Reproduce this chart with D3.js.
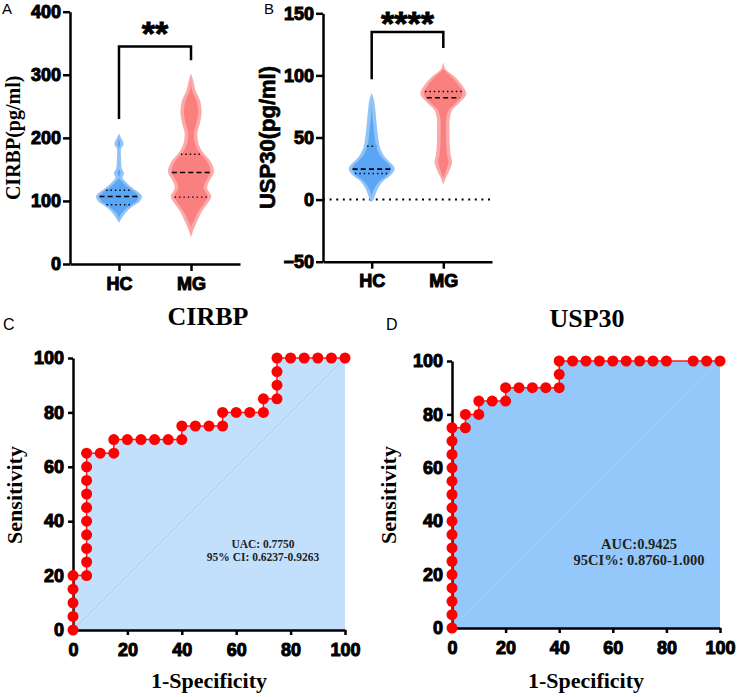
<!DOCTYPE html>
<html>
<head>
<meta charset="utf-8">
<script src="https://cdn.jsdelivr.net/npm/d3@7"></script>
<style>
  body { margin: 0; background: #fff; }
  svg { display: block; }
</style>
</head>
<body>
<svg width="739" height="697"></svg>
<script>
// ---- data ----
var groups = ["HC", "MG"];
var cirbpTicks = [0, 100, 200, 300, 400];
var usp30Ticks = [-50, 0, 50, 100, 150];
var rocTicks = [0, 20, 40, 60, 80, 100];

// violin outlines: [value, relative half width]
var cirbpHC = [[207,0],[200,0.09],[190,0.2],[183,0.09],[168,0.09],[152,0.12],[144,0.22],[137,0.15],[128,0.35],[120,0.6],[112,0.9],[107,1.0],[100,0.92],[93,0.66],[85,0.38],[77,0.2],[70,0.08],[65,0]];
var cirbpMG = [[302,0],[292,0.09],[275,0.2],[258,0.4],[240,0.46],[222,0.38],[208,0.28],[192,0.32],[178,0.5],[162,0.86],[146,1.0],[132,0.8],[121,0.7],[107,0.88],[95,0.7],[82,0.45],[70,0.3],[58,0.15],[48,0.05],[42,0]];
var usp30HC = [[86,0],[80,0.1],[70,0.17],[60,0.22],[50,0.28],[42,0.36],[35,0.55],[30,0.8],[25,1.0],[20,0.85],[15,0.5],[10,0.3],[5,0.18],[0,0.08],[-2,0]];
var usp30MG = [[111,0],[105,0.1],[99,0.5],[92,0.82],[85,1.0],[78,0.7],[72,0.38],[65,0.28],[55,0.27],[45,0.28],[36,0.32],[30,0.38],[24,0.28],[17,0.1],[12,0]];

var cirbpMedian = [107, 145], cirbpQ1 = [94, 106], cirbpQ3 = [117, 174];
var usp30Median = [24.5, 82], usp30Q1 = [21, null], usp30Q3 = [43, 87];

// ROC points (1-specificity %, sensitivity %)
var rocCirbpX = [0,0,0,0,0,5,5,5,5,5,5,5,5,5,5,10,15,15,20,25,30,35,40,40,45,50,55,55,60,65,70,70,75,75,75,75,80,85,90,95,100];
var rocCirbpY = [0,5,10,15,20,20,25,30,35,40,45,50,55,60,65,65,65,70,70,70,70,70,70,75,75,75,75,80,80,80,80,85,85,90,95,100,100,100,100,100,100];
var rocUspX = [0,0,0,0,0,0,0,0,0,0,0,0,0,0,0,0,5,5,10,10,15,20,20,25,30,35,40,40,40,45,50,55,60,65,70,75,80,90,95,100];
var rocUspY = [0,5,10,15,20,25,30,35,40,45,50,55,60,65,70,75,75,80,80,85,85,85,90,90,90,90,90,95,100,100,100,100,100,100,100,100,100,100,100,100];

var svg = d3.select("svg");
svg.append("rect").attr("width", 739).attr("height", 697).attr("fill", "#fff");

var ARIAL = "Arial, 'Liberation Sans', sans-serif";
var TIMES = "'Times New Roman', 'Liberation Serif', serif";

function styleAxis(g, size) {
  g.selectAll("path.domain").attr("stroke", "#000").attr("stroke-width", 2.5);
  g.selectAll(".tick line").attr("stroke", "#000").attr("stroke-width", 2.5);
  g.selectAll(".tick text").attr("font-family", ARIAL).attr("font-weight", "bold")
    .attr("font-size", size).attr("fill", "#000")
    .attr("stroke", "#000").attr("stroke-width", 1);
}

function halfAt(shape, v) {
  for (var i = 0; i < shape.length - 1; i++) {
    var a = shape[i], b = shape[i + 1];
    if (v <= a[0] && v >= b[0]) {
      var t = (a[0] - v) / (a[0] - b[0]);
      return a[1] + t * (b[1] - a[1]);
    }
  }
  return 0;
}

function violinPanel(o) {
  var y = d3.scaleLinear().domain(o.domain).range([o.bottom, o.top]);
  var x = d3.scalePoint().domain(groups).range([o.left, o.right]).padding(0.68);
  var maxHalf = 23, inset = 3.5;
  var g = svg.append("g");

  if (o.zeroLine) {
    g.append("line").attr("x1", o.left).attr("x2", o.right)
      .attr("y1", y(0)).attr("y2", y(0))
      .attr("stroke", "#000").attr("stroke-width", 2).attr("stroke-dasharray", "2,4.6");
  }

  o.shapes.forEach(function (shape, i) {
    var cx = x(groups[i]);
    var outer = d3.area().curve(d3.curveCatmullRom)
      .y(function (d) { return y(d[0]); })
      .x0(function (d) { return cx - d[1] * maxHalf; })
      .x1(function (d) { return cx + d[1] * maxHalf; });
    var inner = d3.area().curve(d3.curveCatmullRom)
      .y(function (d) { return y(d[0]); })
      .x0(function (d) { return cx - Math.max(0, d[1] * maxHalf - inset); })
      .x1(function (d) { return cx + Math.max(0, d[1] * maxHalf - inset); });
    g.append("path").attr("d", outer(shape)).attr("fill", o.light[i]);
    g.append("path").attr("d", inner(shape.slice(1, -1))).attr("fill", o.dark[i]);

    [[o.median[i], "5,3.2", 1.6], [o.q1[i], "1.4,3", 1.4], [o.q3[i], "1.4,3", 1.4]].forEach(function (q) {
      if (q[0] == null) return;
      var hw = Math.max(1, halfAt(shape, q[0]) * maxHalf - inset);
      g.append("line").attr("x1", cx - hw).attr("x2", cx + hw)
        .attr("y1", y(q[0])).attr("y2", y(q[0]))
        .attr("stroke", "#000").attr("stroke-width", q[2]).attr("stroke-dasharray", q[1]);
    });
  });

  var ya = g.append("g").attr("transform", "translate(" + o.left + ",0)")
    .call(d3.axisLeft(y).tickValues(o.ticks).tickSize(7).tickSizeOuter(0).tickPadding(2));
  styleAxis(ya, 18);
  var xa = g.append("g").attr("transform", "translate(0," + o.bottom + ")")
    .call(d3.axisBottom(x).tickSize(7).tickSizeOuter(0).tickPadding(6));
  styleAxis(xa, 18);

  // significance bracket
  var x1 = x(groups[0]), x2 = x(groups[1]);
  g.append("path")
    .attr("d", "M" + x1 + "," + y(o.bracket[0]) + "V" + y(o.bracket[2]) + "H" + x2 + "V" + y(o.bracket[1]))
    .attr("fill", "none").attr("stroke", "#000").attr("stroke-width", 2.5);
  g.append("text").attr("x", (x1 + x2) / 2).attr("y", o.starY)
    .attr("text-anchor", "middle").attr("font-family", ARIAL).attr("font-weight", "bold")
    .attr("font-size", 34).attr("stroke", "#000").attr("stroke-width", 0.8).text(o.stars);

  var lab = g.append("text").attr("transform", "translate(" + o.labelX + "," + ((o.top + o.bottom) / 2) + ") rotate(-90)")
    .attr("text-anchor", "middle").attr("font-family", o.labelFont).attr("font-weight", "bold")
    .attr("font-size", o.labelSize).text(o.label);
  if (o.labelFont === ARIAL) lab.attr("stroke", "#000").attr("stroke-width", 0.7);
  g.append("text").attr("x", o.letterX).attr("y", 14).attr("font-family", ARIAL)
    .attr("font-size", 15).text(o.letter);
}

violinPanel({
  domain: [0, 400], ticks: cirbpTicks, top: 11.7, bottom: 264, left: 70, right: 240,
  shapes: [cirbpHC, cirbpMG], median: cirbpMedian, q1: cirbpQ1, q3: cirbpQ3,
  light: ["#92c4f7", "#fba9a9"], dark: ["#5aa6f4", "#fa8080"],
  bracket: [230, 323, 345], stars: "**", starY: 45,
  label: "CIRBP(pg/ml)", labelFont: TIMES, labelSize: 20, labelX: 20,
  letter: "A", letterX: 2
});

violinPanel({
  domain: [-50, 150], ticks: usp30Ticks, top: 13.3, bottom: 261.7, left: 323, right: 492,
  shapes: [usp30HC, usp30MG], median: usp30Median, q1: usp30Q1, q3: usp30Q3,
  light: ["#92c4f7", "#fba9a9"], dark: ["#5aa6f4", "#fa8080"],
  bracket: [97, 122, 135], stars: "****", starY: 35, zeroLine: true,
  label: "USP30(pg/ml)", labelFont: ARIAL, labelSize: 22, labelX: 275,
  letter: "B", letterX: 264
});

function rocPanel(o) {
  var x = d3.scaleLinear().domain([0, 100]).range([o.left, o.right]);
  var y = d3.scaleLinear().domain([0, 100]).range([o.bottom, o.top]);
  var pts = o.xs.map(function (v, i) { return [v, o.ys[i]]; });
  var g = svg.append("g");

  var poly = pts.concat([[100, 0], [0, 0]]);
  g.append("path").attr("d", d3.line().x(function (d) { return x(d[0]); }).y(function (d) { return y(d[1]); })(poly) + "Z")
    .attr("fill", o.fill);
  g.append("line").attr("x1", x(0)).attr("y1", y(0)).attr("x2", x(100)).attr("y2", y(100))
    .attr("stroke", o.diag).attr("stroke-width", 1);

  var ya = g.append("g").attr("transform", "translate(" + o.left + ",0)")
    .call(d3.axisLeft(y).tickValues(rocTicks).tickSize(5).tickSizeOuter(0).tickPadding(4));
  styleAxis(ya, 18);
  var xa = g.append("g").attr("transform", "translate(0," + o.bottom + ")")
    .call(d3.axisBottom(x).tickValues(rocTicks).tickSize(5).tickSizeOuter(0).tickPadding(8));
  styleAxis(xa, 18);

  g.append("path").attr("d", d3.line().x(function (d) { return x(d[0]); }).y(function (d) { return y(d[1]); })(pts))
    .attr("fill", "none").attr("stroke", "#ff1a1a").attr("stroke-width", 1.5);
  g.selectAll("circle").data(pts).enter().append("circle")
    .attr("cx", function (d) { return x(d[0]); })
    .attr("cy", function (d) { return y(d[1]); })
    .attr("r", 5.5).attr("fill", "#ff0000");

  g.append("text").attr("x", (o.left + o.right) / 2 + o.titleDx).attr("y", o.titleY)
    .attr("text-anchor", "middle").attr("font-family", TIMES).attr("font-weight", "bold")
    .attr("font-size", 26).text(o.title);
  g.append("text").attr("x", o.letterX).attr("y", 330).attr("font-family", ARIAL)
    .attr("font-size", 16).text(o.letter);
  g.append("text").attr("transform", "translate(" + o.labelX + ",495) rotate(-90)")
    .attr("text-anchor", "middle").attr("font-family", TIMES).attr("font-weight", "bold")
    .attr("font-size", 22).text("Sensitivity");
  g.append("text").attr("x", (o.left + o.right) / 2).attr("y", 688)
    .attr("text-anchor", "middle").attr("font-family", TIMES).attr("font-weight", "bold")
    .attr("font-size", 22).text("1-Specificity");
  o.note.forEach(function (t, i) {
    g.append("text").attr("x", o.noteX).attr("y", o.noteY[i])
      .attr("text-anchor", "middle").attr("font-family", TIMES).attr("font-weight", "bold")
      .attr("font-size", o.noteSize).attr("fill", "#222").text(t);
  });
}

rocPanel({
  left: 73, right: 345, top: 358, bottom: 630, xs: rocCirbpX, ys: rocCirbpY,
  fill: "#c2e0fc", diag: "#a9cdef", title: "CIRBP", titleDx: -1, titleY: 325,
  letter: "C", letterX: 3, labelX: 22,
  note: ["UAC: 0.7750", "95% CI: 0.6237-0.9263"], noteX: 263, noteY: [548, 561], noteSize: 11.5
});

rocPanel({
  left: 452, right: 720, top: 361, bottom: 628, xs: rocUspX, ys: rocUspY,
  fill: "#94c8fa", diag: "#a8d2fb", title: "USP30", titleDx: 1, titleY: 327,
  letter: "D", letterX: 386, labelX: 396,
  note: ["AUC:0.9425", "95CI%: 0.8760-1.000"], noteX: 639, noteY: [549, 565], noteSize: 14.5
});
</script>
</body>
</html>
